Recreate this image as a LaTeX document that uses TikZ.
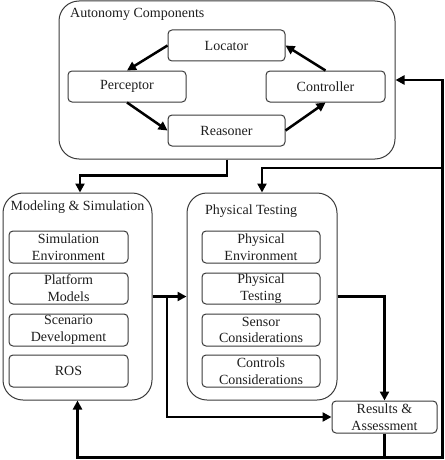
\documentclass[tikz,border=0pt]{standalone}
\usepackage{fontspec}
\setmainfont{Liberation Serif}
\usetikzlibrary{arrows.meta,calc}
\definecolor{boxgray}{HTML}{3A3A3A}
\definecolor{txt}{HTML}{1E1E1E}
\newcommand{\fs}{\fontsize{14}{16.8}\selectfont}
\begin{document}
\begin{tikzpicture}[x=1pt,y=-1pt,
  outer/.style={draw=boxgray, line width=1pt, rounded corners=20pt, inner sep=0pt},
  inbox/.style={draw=boxgray, line width=1pt, rounded corners=4pt, inner sep=0pt, align=center, font=\fs, text=txt},
  title/.style={font=\fs, text=txt, inner sep=0pt},
  arr/.style={line width=2.5pt, -{Triangle[length=9pt,width=9pt]}},
  ln/.style={line width=2.5pt}]
\useasboundingbox (0,0) rectangle (444,460);

% Autonomy components
\node[outer, minimum width=336pt, minimum height=158pt] (auto) at (227,80) {};
\node[title, anchor=west] (autot) at (70,14) {Autonomy Components};
\node[inbox, minimum width=117pt, minimum height=31pt] (loc) at (226.5,45.5) {Locator};
\node[inbox, minimum width=118pt, minimum height=31pt] (per) at (127,86.5) {Perceptor};
\node[inbox, minimum width=119pt, minimum height=31pt] (con) at (325.5,86.5) {Controller};
\node[inbox, minimum width=117pt, minimum height=31pt] (rea) at (226.5,130.5) {Reasoner};
\draw[arr] (loc.west) -- (per.north);
\draw[arr] (per.south) -- (rea.west);
\draw[arr] (rea.east) -- (con.south);
\draw[arr] (con.north) -- (loc.east);

% Modeling & Simulation
\node[outer, minimum width=149pt, minimum height=207pt] (mod) at (77.5,296.5) {};
\node[title] (modt) at (77.5,207) {Modeling \& Simulation};
\node[inbox, minimum width=119pt, minimum height=32pt] (sim) at (68.5,247) {Simulation\\Environment};
\node[inbox, minimum width=119pt, minimum height=31pt] (plat) at (68.5,288.5) {Platform\\Models};
\node[inbox, minimum width=119pt, minimum height=32pt] (scen) at (68.5,330) {Scenario\\Development};
\node[inbox, minimum width=119pt, minimum height=32pt] (ros) at (68.5,371) {ROS};

% Physical Testing
\node[outer, minimum width=150pt, minimum height=207pt] (phys) at (262,296.5) {};
\node[title, anchor=west] (physt) at (205,211) {Physical Testing};
\node[inbox, minimum width=118pt, minimum height=32pt] (penv) at (261,247) {Physical\\Environment};
\node[inbox, minimum width=118pt, minimum height=31pt] (ptest) at (261,288.5) {Physical\\Testing};
\node[inbox, minimum width=118pt, minimum height=32pt] (sens) at (261,330) {Sensor\\Considerations};
\node[inbox, minimum width=118pt, minimum height=32pt] (ctrl) at (261,371) {Controls\\Considerations};

% Results
\node[inbox, minimum width=105pt, minimum height=32pt] (res) at (384.5,417) {Results \&\\Assessment};

% Connectors
\draw[arr] (auto.south) -- ++(0,16) -| ([xshift=2.5pt]mod.north);
\draw[arr] (mod.east) -- (phys.west);
\coordinate (br) at ($(mod.east)!0.43!(phys.west)$);
\draw[arr] (br) |- (res.west);
\draw[arr] (phys.east) -| (res.north);
\draw[ln] (res.south) -- ++(0,24) coordinate (fb);
\draw[arr] (fb) -| (mod.south);
\coordinate (rc) at ($(auto.east)+(47,0)$);
\draw[arr] (fb) -| (rc) -- (auto.east);
\coordinate (rb) at ($(rc)+(0,88)$);
\draw[arr] (rb) -| (phys.north);
\end{tikzpicture}
\end{document}
